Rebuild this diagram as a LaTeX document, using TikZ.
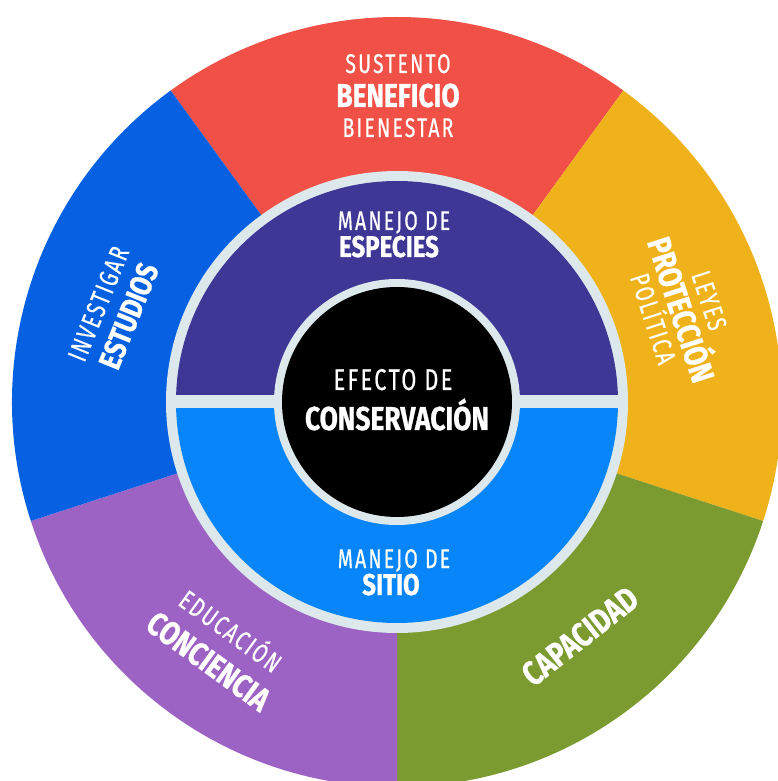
\documentclass[tikz,border=0pt]{standalone}
\usepackage{fontspec}
\newfontfamily\lightf[FakeStretch=0.72,LetterSpace=8,FakeBold=0.6]{Fira Sans}
\newfontfamily\boldf[FakeStretch=0.8,FakeBold=0.8]{Fira Sans}
\definecolor{segred}{HTML}{F15046}
\definecolor{segyellow}{HTML}{EFB21A}
\definecolor{seggreen}{HTML}{7B9A2F}
\definecolor{segpurple}{HTML}{9C63C5}
\definecolor{segblue}{HTML}{0561E2}
\definecolor{innerpurple}{HTML}{3E3795}
\definecolor{innerblue}{HTML}{0885F8}
\definecolor{ringgray}{HTML}{DCE8EC}

\tikzset{
  lbl/.style={text=white, inner sep=0pt, anchor=base},
  lite/.style={lbl, font=\lightf\fontsize{#1}{#1}\selectfont},
  heavy/.style={lbl, font=\boldf\bfseries\fontsize{#1}{#1}\selectfont},
}

\begin{document}
\begin{tikzpicture}[x=1pt,y=1pt]
      \useasboundingbox (-397,-379) rectangle (381,402);
      \clip (-397,-379) rectangle (381,402);

      \foreach \a/\c in {54/segred,-18/segyellow,-90/seggreen,-162/segpurple,-234/segblue}
        \fill [\c] (0,0) -- (\a:385) arc [start angle=\a, delta angle=72, radius=385] -- cycle;

      \fill [ringgray] (0,0) circle [radius=231];
      \fill [innerpurple] (221,0) arc [start angle=0, end angle=180, radius=221] -- cycle;
      \fill [innerblue] (-221,0) arc [start angle=180, end angle=360, radius=221] -- cycle;
      \fill [ringgray] (-225,-6.5) rectangle (225,6.5);
      \fill [ringgray] (0,0) circle [radius=123];
      \fill [black] (0,0) circle [radius=115];

      \node [lite=27] (sustento) at (1,329) {SUSTENTO};
      \node [heavy=33] (beneficio) at (1,295) {BENEFICIO};
      \node [lite=27] (bienestar) at (1,265) {BIENESTAR};

      \node [lite=27] (manejoesp) at (-3,172) {MANEJO DE};
      \node [heavy=30] (especies) at (-8,145) {ESPECIES};

      \node [lite=30] (efecto) at (-4,12) {EFECTO DE};
      \node [heavy=33] (conservacion) at (0,-28) {CONSERVACIÓN};

      \node [lite=27] (manejositio) at (-3,-166) {MANEJO DE};
      \node [heavy=30] (sitio) at (-6,-193) {SITIO};

      \begin{scope}[shift={(18:298)}, rotate=-72, transform shape]
        \node [lite=27] (leyes) at (0,21) {LEYES};
        \node [heavy=33] (proteccion) at (0,-11) {PROTECCIÓN};
        \node [lite=27] (politica) at (0,-38) {POLÍTICA};
      \end{scope}

      \begin{scope}[shift={(162:298)}, rotate=68, transform shape]
        \node [lite=27] (investigar) at (0,7) {INVESTIGAR};
        \node [heavy=31] (estudios) at (0,-27) {ESTUDIOS};
      \end{scope}

      \begin{scope}[shift={(234:302)}, rotate=-36, transform shape]
        \node [lite=27] (educacion) at (0,9) {EDUCACIÓN};
        \node [heavy=33] (conciencia) at (0,-30) {CONCIENCIA};
      \end{scope}

      \begin{scope}[shift={(-52:297)}, rotate=38, transform shape]
        \node [heavy=34] (capacidad) at (0,-12) {CAPACIDAD};
      \end{scope}
\end{tikzpicture}
\end{document}
